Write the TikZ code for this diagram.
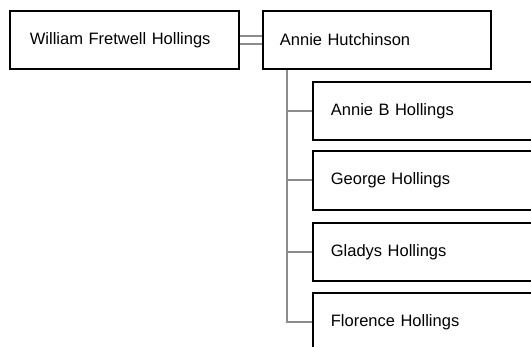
\documentclass[tikz,border=0pt]{standalone}
\usepackage{fontspec}
\setmainfont{Liberation Sans}
\begin{document}
\begin{tikzpicture}[x=1pt,y=1pt,
  person/.style={draw=black, line width=1.8pt, fill=white, rectangle, anchor=north west,
    minimum height=58pt, inner xsep=0pt, inner ysep=0pt, align=left,
    font=\fontsize{16.5}{18}\selectfont},
  link/.style={draw=gray!90, line width=2pt}]
\useasboundingbox (0,0) rectangle (531,347);
\clip (0,0) rectangle (531,347);
\fill[white] (0,0) rectangle (531,347);
\node[person, text width=229pt, minimum width=229pt] (w) at (9,337) {\hspace*{20pt}William Fretwell Hollings};
\node[person, text width=228pt, minimum width=228pt] (a) at (262,337) {\hspace*{17pt}Annie Hutchinson};
\node[person, text width=230pt, minimum width=230pt] (c1) at (312,266) {\hspace*{18pt}Annie B Hollings};
\node[person, text width=230pt, minimum width=230pt, minimum height=59pt] (c2) at (312,197) {\hspace*{18pt}George Hollings};
\node[person, text width=230pt, minimum width=230pt] (c3) at (312,125) {\hspace*{18pt}Gladys Hollings};
\node[person, text width=230pt, minimum width=230pt] (c4) at (312,55) {\hspace*{18pt}Florence Hollings};
\draw[link] ([yshift=4pt]w.east) -- ([yshift=4pt]a.west);
\draw[link] ([yshift=-4pt]w.east) -- ([yshift=-4pt]a.west);
\coordinate (top) at ([xshift=25pt]a.south west);
\coordinate (bot) at (top |- c4.west);
\draw[link] (top) -- (bot) -- (c4.west);
\draw[link] (top |- c1.west) -- (c1.west);
\draw[link] (top |- c2.west) -- (c2.west);
\draw[link] (top |- c3.west) -- (c3.west);
\end{tikzpicture}
\end{document}
